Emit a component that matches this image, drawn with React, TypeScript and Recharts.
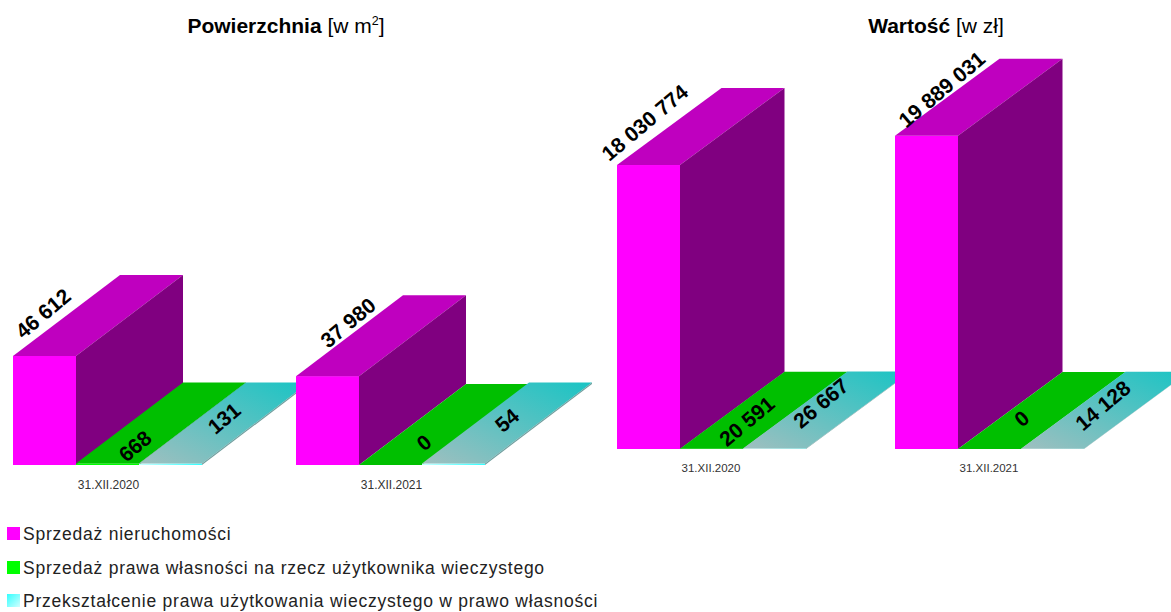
import { Bar, BarChart, LabelList, Legend, XAxis, YAxis } from "recharts";

const categories = ["31.XII.2020", "31.XII.2021"];

const seriesNames = [
  "Sprzedaż nieruchomości",
  "Sprzedaż prawa własności na rzecz użytkownika wieczystego",
  "Przekształcenie prawa użytkowania wieczystego w prawo własności",
];

const areaSales = [46612, 37980];
const areaOwnership = [668, 0];
const areaConversion = [131, 54];

const valueSales = [18030774, 19889031];
const valueOwnership = [20591, 0];
const valueConversion = [26667, 14128];

const areaData = categories.map((name, i) => ({ name, sales: areaSales[i], ownership: areaOwnership[i], conversion: areaConversion[i] }));
const valueData = categories.map((name, i) => ({ name, sales: valueSales[i], ownership: valueOwnership[i], conversion: valueConversion[i] }));

// label nudges relative to the middle of each top face
const areaShifts = {
  sales: [[-55, -2], [-33, -13]],
  ownership: [[-26, 23], [-20, 18]],
  conversion: [[0, -6], [0, -4]],
};
const valueShifts = {
  sales: [[-56, -4], [-37, -8]],
  ownership: [[-17, 11], [-20, 8]],
  conversion: [[-6, -7], [-2, -5]],
};

const fmt = (v: number) => String(v).replace(/\B(?=(\d{3})+$)/g, " ");

function Box3D(props: any) {
  const { x, y, width, height, index, depth, front, top, side, minFront = 0, clipGap, chartId } = props;
  const base = y + height;
  const h = Math.max(height, minFront);
  const yTop = base - h;
  const right = x + width;
  const clipId = `${chartId}-clip-${index}`;
  const clipped = clipGap && index === 0;
  return (
    <g clipPath={clipped ? `url(#${clipId})` : undefined}>
      {clipped && (
        <clipPath id={clipId}>
          <rect x={x} y={yTop + depth.dy - 5} width={width + clipGap} height={h - depth.dy + 10} />
        </clipPath>
      )}
      {h > 0 && <rect x={x} y={yTop} width={width} height={h} fill={front} />}
      <polygon points={`${x},${yTop} ${x + depth.dx},${yTop + depth.dy} ${right + depth.dx},${yTop + depth.dy} ${right},${yTop}`} fill={top} />
      {h > 0 && <polygon points={`${right},${yTop} ${right + depth.dx},${yTop + depth.dy} ${right + depth.dx},${base + depth.dy} ${right},${base}`} fill={side} />}
    </g>
  );
}

function makeLabel(depth: { dx: number; dy: number }, shifts: number[][]) {
  return (p: any) => {
    const s = shifts[p.index];
    const cx = p.x + p.width / 2 + depth.dx / 2 + s[0];
    const cy = p.y + depth.dy / 2 + s[1];
    return (
      <text
        x={cx}
        y={cy}
        textAnchor="middle"
        dominantBaseline="central"
        transform={`rotate(-40 ${cx} ${cy})`}
        fontFamily="'Liberation Sans', Arial, sans-serif"
        fontWeight="bold"
        fontSize={21}
        fill="#000"
      >
        {fmt(p.value)}
      </text>
    );
  };
}

const Gradients = ({ id }: { id: string }) => (
  <defs>
    <linearGradient id={`${id}-cyan-top`} x1="0" y1="1" x2="1" y2="0">
      <stop offset="0%" stopColor="#a0bfbf" />
      <stop offset="100%" stopColor="#19c4c4" />
    </linearGradient>
    <linearGradient id={`${id}-cyan-front`} x1="0" y1="0" x2="1" y2="0">
      <stop offset="0%" stopColor="#c8ffff" />
      <stop offset="100%" stopColor="#33ffff" />
    </linearGradient>
  </defs>
);

const swatches = ["#ff00ff", "#00ff00", "linear-gradient(135deg, #33ffff, #d0ffff)"];

function LegendBlock() {
  return (
    <div style={{ fontFamily: "'Liberation Sans', Arial, sans-serif", fontSize: 17.5, letterSpacing: 0.76, color: "#222", position: "relative" }}>
      {seriesNames.map((name, i) => (
        <div key={name} style={{ position: "absolute", left: 0, top: i * 33.5, height: 20, whiteSpace: "nowrap" }}>
          <span style={{ position: "absolute", left: 0, top: 3, width: 13, height: 13, background: swatches[i] }} />
          <span style={{ position: "absolute", left: 16, top: 0, lineHeight: "20px" }}>{name}</span>
        </div>
      ))}
    </div>
  );
}

const titleStyle: any = {
  position: "absolute",
  fontFamily: "'Liberation Sans', Arial, sans-serif",
  fontSize: 21,
  color: "#000",
  whiteSpace: "nowrap",
  transform: "translateX(-50%)",
  lineHeight: "24px",
};

function renderSeries(id: string, depth: any, shifts: any, minConversion: number, clipGap: number) {
  return [
    <Bar key="sales" dataKey="sales" name={seriesNames[0]} fill="#ff00ff" isAnimationActive={false}
      shape={(p: any) => <Box3D {...p} chartId={id + "s"} depth={depth} front="#ff00ff" top="#bf00bf" side="#800080" />}>
      <LabelList dataKey="sales" content={makeLabel(depth, shifts.sales)} />
    </Bar>,
    <Bar key="ownership" dataKey="ownership" name={seriesNames[1]} fill="#00ff00" isAnimationActive={false}
      shape={(p: any) => <Box3D {...p} chartId={id + "o"} depth={depth} front="#00ff00" top="#00bf00" side="#008000" />}>
      <LabelList dataKey="ownership" content={makeLabel(depth, shifts.ownership)} />
    </Bar>,
    <Bar key="conversion" dataKey="conversion" name={seriesNames[2]} fill="#33ffff" isAnimationActive={false}
      shape={(p: any) => <Box3D {...p} chartId={id + "c"} depth={depth} minFront={minConversion} clipGap={clipGap}
        front={`url(#${id}-cyan-front)`} top={`url(#${id}-cyan-top)`} side="#6f9f9f" />}>
      <LabelList dataKey="conversion" content={makeLabel(depth, shifts.conversion)} />
    </Bar>,
  ];
}

export default function App() {
  return (
    <div style={{ position: "absolute", left: 0, top: 0, width: 1171, height: 612, overflow: "hidden", background: "#fff" }}>
      <div style={{ ...titleStyle, left: 286, top: 14 }}>
        <b>Powierzchnia</b> [w m<sup style={{ fontSize: 12.5, lineHeight: 0 }}>2</sup>]
      </div>
      <div style={{ ...titleStyle, left: 936, top: 14 }}>
        <b>Wartość</b> [w zł]
      </div>

      <div style={{ position: "absolute", left: -34, top: 0 }}>
        <BarChart width={640} height={612} data={areaData} barSize={63} barGap={0} margin={{ top: 348, right: 74, bottom: 112, left: 0 }}>
          <Gradients id="area" />
          <XAxis dataKey="name" axisLine={false} tickLine={false} height={35} tickMargin={9}
            tick={{ fontFamily: "'Liberation Sans', Arial, sans-serif", fontSize: 12, fill: "#333", dx: 1 }} />
          <YAxis hide domain={[0, 50000]} />
          {renderSeries("area", { dx: 107, dy: -81 }, areaShifts, 1.5, 94)}
          <Legend layout="vertical" align="center" verticalAlign="middle"
            wrapperStyle={{ position: "absolute", left: 41, top: 524, width: 640, height: 80 }}
            content={() => <LegendBlock />} />
        </BarChart>
      </div>

      <div style={{ position: "absolute", left: 571.5, top: 0 }}>
        <BarChart width={620} height={484} data={valueData} barSize={63} barGap={0} margin={{ top: 134, right: 64, bottom: 0, left: 0 }}>
          <Gradients id="value" />
          <XAxis dataKey="name" axisLine={false} tickLine={false} height={35} tickMargin={9}
            tick={{ fontFamily: "'Liberation Sans', Arial, sans-serif", fontSize: 11.5, fill: "#333" }} />
          <YAxis hide domain={[0, 20000000]} />
          {renderSeries("value", { dx: 104.5, dy: -77 }, valueShifts, 0, 89)}
        </BarChart>
      </div>
    </div>
  );
}
